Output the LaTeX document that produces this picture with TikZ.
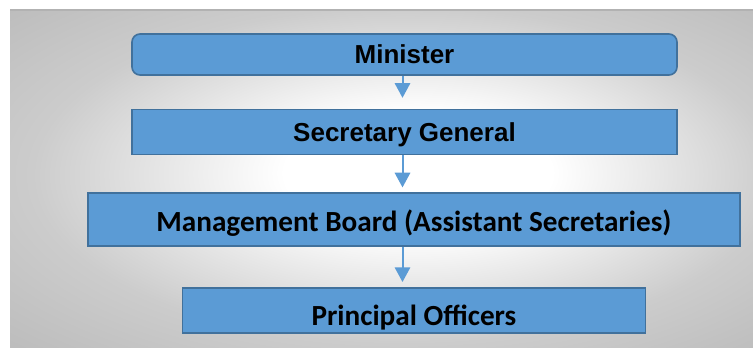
\documentclass[tikz,border=0pt]{standalone}
\usepackage{fontspec}
\setmainfont{Liberation Sans}
\newfontfamily\calibri{Carlito}
\usetikzlibrary{arrows.meta,positioning}

\definecolor{officeblue}{HTML}{5B9BD5}
\definecolor{officeedge}{HTML}{41719C}
% soft white glow in the middle of the grey panel
\pgfdeclareradialshading{panelglow}{\pgfpoint{3bp}{1bp}}{%
  color(0bp)=(white); color(9bp)=(white); color(25bp)=(black!20); color(36bp)=(black!26); color(50bp)=(black!26)}

\begin{document}
\begin{tikzpicture}[x=0.75pt, y=-0.75pt,
  tier/.style={draw=officeedge, line width=1.2pt, fill=officeblue,
               inner sep=0pt, text depth=0pt, text height=#1},
  arial/.style={font=\bfseries\fontsize{19.5}{22}\selectfont},
  carlito/.style={font=\calibri\bfseries\fontsize{21.9}{24}\selectfont},
  arr/.style={-{Triangle[length=11pt, width=11.5pt]}, officeblue, line width=1.5pt}]
\useasboundingbox (0,0) rectangle (753,347);
\shade[shading=panelglow] (10,10) rectangle (753,347);
\draw[black!30, line width=0.8pt] (10,10) -- (753,10);
\coordinate (spine) at (402.5,0);
\node[tier=13.5pt, arial, rounded corners=6pt, minimum width=408.75pt,
      minimum height=30.75pt] (mini) at (404.5,54.5) {Minister};
\node[tier=14.25pt, arial, minimum width=408.75pt, minimum height=33.75pt,
      below=24.75pt of mini] (secgen) {Secretary General};
\node[tier=17.25pt, carlito, minimum width=489pt, minimum height=39.75pt,
      below=27.75pt of secgen, xshift=7.1pt] (board) {Management Board (Assistant Secretaries)};
\node[tier=23.25pt, carlito, minimum width=347.25pt, minimum height=33.75pt,
      below=30pt of board] (officers) {Principal Officers};
\draw[arr, shorten >=8.25pt] (mini.south -| spine) -- (secgen.north -| spine);
\draw[arr, shorten >=3.75pt] (secgen.south -| spine) -- (board.north -| spine);
\draw[arr, shorten >=3.75pt] (board.south -| spine) -- (officers.north -| spine);
\end{tikzpicture}
\end{document}
